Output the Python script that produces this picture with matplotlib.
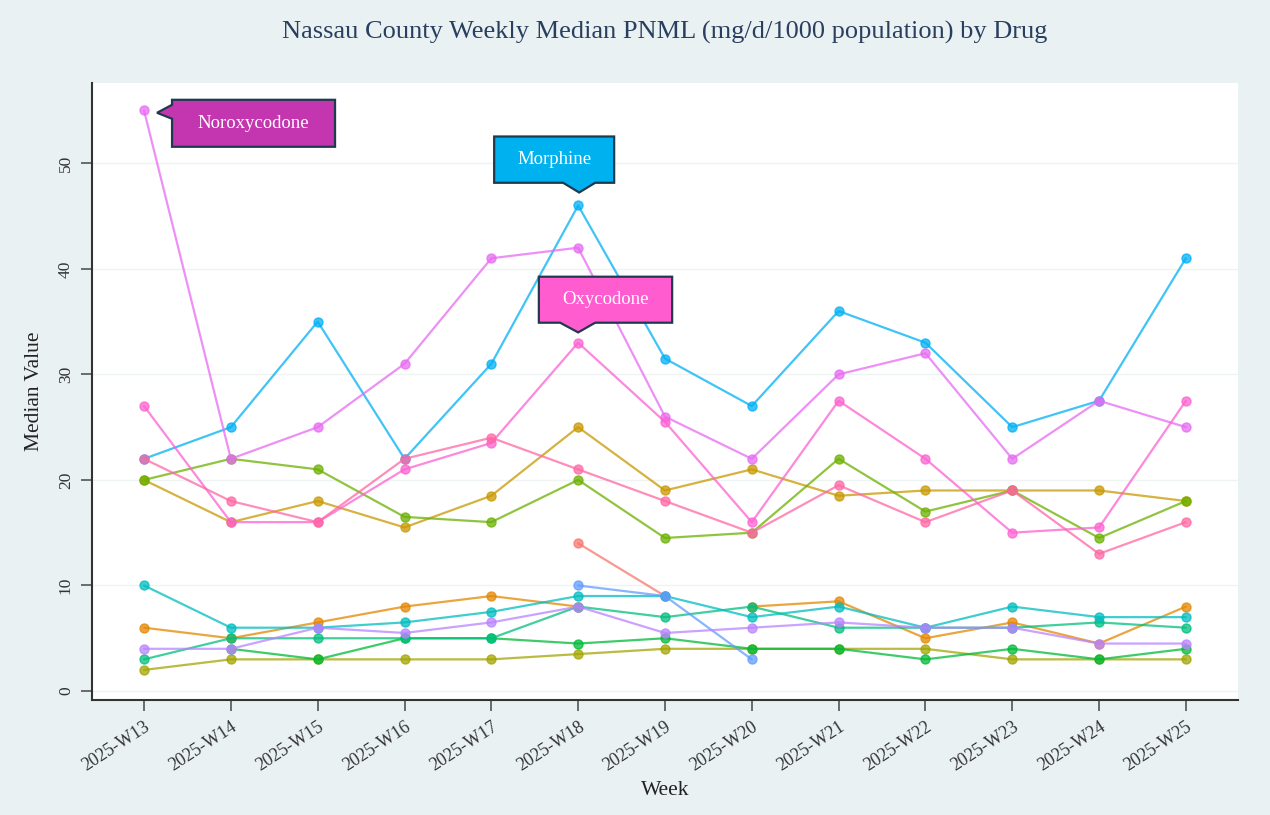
import numpy as np
import matplotlib
matplotlib.use("Agg")
import matplotlib.pyplot as plt
import matplotlib.transforms as mtransforms
from matplotlib.patches import Polygon

nan = np.nan

weeks = ["2025-W13", "2025-W14", "2025-W15", "2025-W16", "2025-W17", "2025-W18", "2025-W19",
         "2025-W20", "2025-W21", "2025-W22", "2025-W23", "2025-W24", "2025-W25"]

# one list per drug (NaN = no sample that week)
salmon_vals = [nan, nan, nan, nan, nan, 14, 9, nan, nan, nan, nan, nan, nan]
orange_vals = [6, 5, 6.5, 8, 9, 8, nan, 8, 8.5, 5, 6.5, 4.5, 8]
gold_vals = [20, 16, 18, 15.5, 18.5, 25, 19, 21, 18.5, 19, 19, 19, 18]
olive_vals = [2, 3, 3, 3, 3, 3.5, 4, 4, 4, 4, 3, 3, 3]
lime_vals = [20, 22, 21, 16.5, 16, 20, 14.5, 15, 22, 17, 19, 14.5, 18]
green_vals = [nan, 4, 3, 5, 5, 4.5, 5, 4, 4, 3, 4, 3, 4]
teal_vals = [3, 5, 5, 5, 5, 8, 7, 8, 6, 6, 6, 6.5, 6]
cyan_vals = [10, 6, 6, 6.5, 7.5, 9, 9, 7, 8, 6, 8, 7, 7]
morphine = [22, 25, 35, 22, 31, 46, 31.5, 27, 36, 33, 25, 27.5, 41]
periwinkle_vals = [nan, nan, nan, nan, nan, 10, 9, 3, nan, nan, nan, nan, nan]
purple_vals = [4, 4, 6, 5.5, 6.5, 8, 5.5, 6, 6.5, 6, 6, 4.5, 4.5]
noroxycodone = [55, 22, 25, 31, 41, 42, 26, 22, 30, 32, 22, 27.5, 25]
oxycodone = [27, 16, 16, 21, 23.5, 33, 25.5, 16, 27.5, 22, 15, 15.5, 27.5]
rose_vals = [22, 18, 16, 22, 24, 21, 18, 15, 19.5, 16, 19, 13, 16]

series = [
    (salmon_vals, "#F8766D"), (orange_vals, "#E58700"), (gold_vals, "#C99800"),
    (olive_vals, "#A3A500"), (lime_vals, "#6BB100"), (green_vals, "#00BA38"),
    (teal_vals, "#00BF7D"), (cyan_vals, "#00BDC0"), (morphine, "#00B0F6"),
    (periwinkle_vals, "#619CFF"), (purple_vals, "#B983FF"), (noroxycodone, "#E76BF3"),
    (oxycodone, "#FD61D1"), (rose_vals, "#FF67A4"),
]

BG = "#E9F1F3"
NAVY = "#1F3A4F"
SERIF = ["Liberation Serif", "DejaVu Serif"]
plt.rcParams["font.family"] = SERIF

fig = plt.figure(figsize=(12.7, 8.15), dpi=100, facecolor=BG)
ax = fig.add_axes([0.0724, 0.1411, 0.9024, 0.757])
ax.set_facecolor("white")

x = np.arange(len(weeks))
for vals, col in series:
    ax.plot(x, vals, color=col, lw=1.6, marker="o", ms=6.5, alpha=0.75, solid_capstyle="round")

ax.set_xlim(-0.6, 12.6)
ax.set_ylim(-0.85, 57.6)
ax.set_yticks([0, 10, 20, 30, 40, 50])
ax.set_xticks(x)
ax.set_xticklabels(weeks, rotation=33, ha="right", rotation_mode="anchor",
                   fontsize=13, color="#333333")
# nudge the rotated labels so their ends sit just right of the ticks
shift = mtransforms.ScaledTranslation(10 / 100, 0, fig.dpi_scale_trans)
for lab in ax.get_xticklabels():
    lab.set_transform(lab.get_transform() + shift)
for lab in ax.get_yticklabels():
    lab.set_rotation(90)
    lab.set_va("center")
    lab.set_fontsize(12.5)
    lab.set_color("#333333")
ax.tick_params(axis="both", direction="out", length=8, width=1.2, color="#555555")
ax.tick_params(axis="y", pad=5)
ax.tick_params(axis="x", pad=5)
ax.grid(axis="y", color="#EEF3F3", lw=1)
ax.set_axisbelow(True)
for side in ["top", "right"]:
    ax.spines[side].set_visible(False)
for side in ["left", "bottom"]:
    ax.spines[side].set_color("#333333")
    ax.spines[side].set_linewidth(1.5)

ax.set_xlabel("Week", fontsize=15.5, color="#222222", labelpad=5)
ax.set_ylabel("Median Value", fontsize=15.5, color="#222222", labelpad=10)
fig.text(665 / 1270, 1 - 32 / 815, "Nassau County Weekly Median PNML (mg/d/1000 population) by Drug",
         ha="center", va="center", fontsize=19, color="#2A3F5F")


def callout(ax, xi, yv, label, fill, outline, text_at):
    # outline and text_at are pixel offsets from the data point (y up)
    tr = mtransforms.Affine2D() + mtransforms.ScaledTranslation(xi, yv, ax.transData)
    ax.add_patch(Polygon(outline, closed=True, transform=tr, facecolor=fill,
                         edgecolor=NAVY, lw=1.6, zorder=5, clip_on=False, joinstyle="miter"))
    ax.text(text_at[0], text_at[1], label, transform=tr, ha="center", va="center",
            color="white", fontsize=13.5, zorder=6)


# Noroxycodone: pointer on the left side
callout(ax, 0, noroxycodone[0], "Noroxycodone", "#C435B0",
        [(28, 10.7), (191, 10.7), (191, -36.3), (28, -36.3), (28, -8.3), (13, -2.3), (28, 5.7)],
        (109.5, -12.8))
# Morphine: pointer below
callout(ax, 5, morphine[5], "Morphine", "#00B1F0",
        [(-84, 69), (36, 69), (36, 22.7), (17, 22.7), (1, 13), (-15, 22.7), (-84, 22.7)],
        (-24, 45.7))
# Oxycodone: pointer below
callout(ax, 5, oxycodone[5], "Oxycodone", "#FF5CD0",
        [(-39.3, 66), (94, 66), (94, 20), (17, 20), (0, 10.3), (-18, 20), (-39.3, 20)],
        (27, 43))

fig.savefig("out.png", dpi=100, facecolor=BG)
